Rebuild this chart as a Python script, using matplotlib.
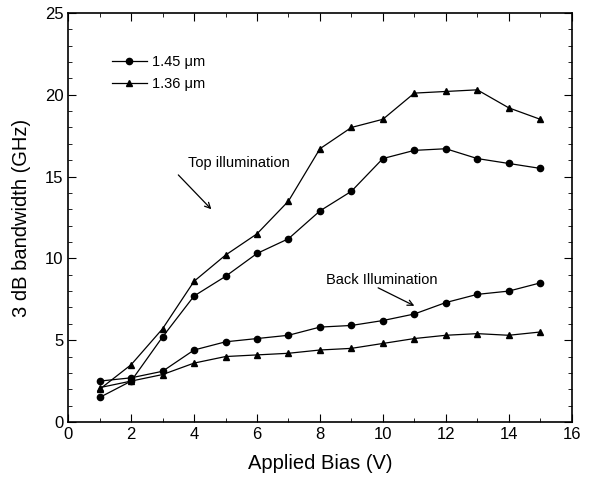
import numpy as np
import matplotlib.pyplot as plt
from matplotlib.ticker import MultipleLocator

plt.rcParams['font.family'] = ['Liberation Sans', 'DejaVu Sans']

# Applied bias (V)
bias = [1, 2, 3, 4, 5, 6, 7, 8, 9, 10, 11, 12, 13, 14, 15]

# 3 dB bandwidth (GHz), top illumination
top_145 = [1.5, 2.5, 5.2, 7.7, 8.9, 10.3, 11.2, 12.9, 14.1, 16.1, 16.6, 16.7, 16.1, 15.8, 15.5]
top_136 = [2.0, 3.5, 5.7, 8.6, 10.2, 11.5, 13.5, 16.7, 18.0, 18.5, 20.1, 20.2, 20.3, 19.2, 18.5]

# 3 dB bandwidth (GHz), back illumination
back_145 = [2.5, 2.7, 3.1, 4.4, 4.9, 5.1, 5.3, 5.8, 5.9, 6.2, 6.6, 7.3, 7.8, 8.0, 8.5]
back_136 = [2.1, 2.5, 2.9, 3.6, 4.0, 4.1, 4.2, 4.4, 4.5, 4.8, 5.1, 5.3, 5.4, 5.3, 5.5]

fig = plt.figure(figsize=(5.98, 4.79), dpi=100)
ax = fig.add_axes([0.114, 0.119, 0.842, 0.854])

line_kw = dict(color='black', linewidth=0.9)
ax.plot(bias, top_145, marker='o', markersize=4.5, label='1.45 \u03bcm', **line_kw)
ax.plot(bias, top_136, marker='^', markersize=5, label='1.36 \u03bcm', **line_kw)
ax.plot(bias, back_145, marker='o', markersize=4.5, **line_kw)
ax.plot(bias, back_136, marker='^', markersize=5, **line_kw)

# annotations: text and arrows drawn separately
arrow_kw = dict(arrowstyle='->', color='black', lw=0.9, shrinkA=0, shrinkB=0)
ax.text(5.42, 15.85, 'Top illumination', ha='center', va='center', fontsize=10.5)
ax.annotate('', xy=(4.55, 13.0), xytext=(3.5, 15.1), arrowprops=arrow_kw)
ax.text(9.95, 8.7, 'Back Illumination', ha='center', va='center', fontsize=10.5)
ax.annotate('', xy=(11.0, 7.1), xytext=(9.85, 8.2), arrowprops=arrow_kw)

ax.legend(loc='upper left', bbox_to_anchor=(0.06, 0.93), frameon=False,
          fontsize=10.5, handlelength=2.4, labelspacing=0.6, handletextpad=0.4)

ax.set_xlim(0, 16)
ax.set_ylim(0, 25)
ax.xaxis.set_major_locator(MultipleLocator(2))
ax.xaxis.set_minor_locator(MultipleLocator(1))
ax.yaxis.set_major_locator(MultipleLocator(5))
ax.yaxis.set_minor_locator(MultipleLocator(1))
ax.tick_params(which='both', direction='in', top=True, right=True, labelsize=12)
ax.tick_params(which='major', length=6)
ax.tick_params(which='minor', length=3)
for s in ax.spines.values():
    s.set_linewidth(1.2)

ax.set_xlabel('Applied Bias (V)', fontsize=14.5, labelpad=9)
ax.set_ylabel('3 dB bandwidth (GHz)', fontsize=14.5, labelpad=10)

fig.savefig('out.png', dpi=100)
